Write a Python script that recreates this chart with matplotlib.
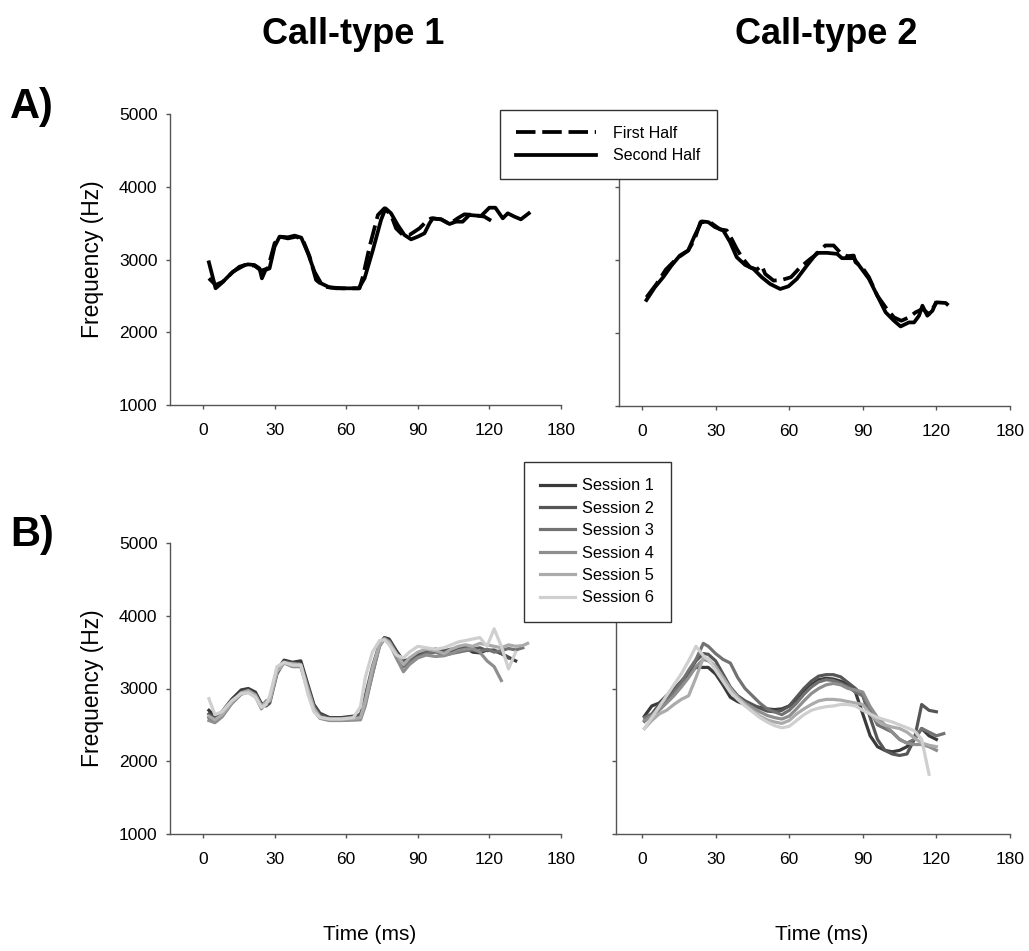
import matplotlib
matplotlib.use('Agg')
import matplotlib.pyplot as plt
from matplotlib.lines import Line2D

plt.rcParams['font.family'] = ['Liberation Sans', 'DejaVu Sans']

# ---------------- data ----------------
# x ticks are evenly spaced but the last one is labelled 180
tick_pos = [0, 30, 60, 90, 120, 150]
tick_labels = ['0', '30', '60', '90', '120', '180']
ytick_vals = [1000, 2000, 3000, 4000, 5000]

# A) call-type 1, first half (dashed) / second half (solid)
a1_first_t = [2.5, 5.3, 8.4, 12.6, 17.5, 21.6, 24.4, 27.2, 30.0, 32.1, 35.6, 39.1,
              41.9, 44.7, 47.4, 50.9, 55.8, 65.6, 67.0, 69.8, 73.3, 76.0, 78.8, 80.9,
              83.7, 86.5, 90.7, 93.5, 95.6, 99.8, 103.3, 106.7, 109.5, 113.7, 117.9, 120.7]
a1_first_f = [2741, 2650, 2695, 2833, 2924, 2915, 2846, 2878, 3222, 3314, 3290, 3314,
              3268, 3039, 2718, 2627, 2604, 2604, 2764, 3176, 3612, 3703, 3612, 3428,
              3337, 3337, 3428, 3520, 3566, 3552, 3488, 3566, 3621, 3612, 3589, 3534]
a1_second_t = [2.5, 5.3, 7.7, 11.9, 15.3, 18.8, 21.6, 23.7, 24.7, 26.2, 27.9, 30.0,
               32.1, 35.6, 38.4, 41.2, 44.0, 46.7, 49.5, 53.0, 58.6, 65.3, 67.7, 71.2,
               74.6, 76.5, 78.8, 81.6, 84.4, 87.2, 90.0, 92.8, 94.9, 96.3, 99.8, 103.3,
               106.0, 108.8, 111.6, 116.5, 120.0, 122.5, 125.6, 127.7, 130.5, 133.2, 136.5]
a1_second_f = [2961, 2604, 2672, 2810, 2901, 2933, 2924, 2878, 2741, 2856, 2878, 3176,
               3314, 3305, 3328, 3300, 3085, 2833, 2672, 2617, 2604, 2604, 2741, 3131,
               3543, 3703, 3635, 3474, 3337, 3277, 3314, 3360, 3497, 3566, 3552, 3488,
               3520, 3520, 3612, 3598, 3712, 3712, 3566, 3635, 3589, 3552, 3635]

# A) call-type 2
a2_first_t = [1.8, 5.9, 9.7, 14.0, 18.8, 21.5, 23.8, 27.7, 31.8, 34.5, 36.5, 38.6,
              40.9, 44.0, 46.8, 48.8, 50.2, 53.6, 57.0, 60.7, 64.5, 68.6, 71.3, 74.7,
              78.1, 80.9, 83.6, 86.3, 87.0, 89.7, 92.5, 95.9, 99.3, 102.7, 105.7, 108.8,
              111.5, 114.3, 117.0, 120.1, 123.8, 126.1]
a2_first_f = [2489, 2672, 2869, 3015, 3130, 3290, 3519, 3519, 3419, 3405, 3290, 3153,
              3025, 2901, 2869, 2924, 2809, 2718, 2727, 2764, 2901, 3015, 3084, 3199,
              3199, 3098, 3052, 3061, 2970, 2901, 2764, 2512, 2351, 2214, 2168, 2214,
              2283, 2328, 2260, 2420, 2411, 2342]
a2_second_t = [1.8, 5.2, 8.6, 12.0, 15.4, 18.8, 21.5, 24.3, 27.0, 29.7, 33.1, 35.9,
               38.6, 42.0, 45.4, 48.8, 52.2, 56.3, 59.7, 63.1, 67.2, 71.3, 75.4, 79.5,
               81.5, 86.3, 89.0, 92.5, 95.9, 99.3, 102.7, 105.4, 108.8, 110.9, 112.9,
               114.3, 116.3, 118.4, 119.7]
a2_second_f = [2452, 2626, 2764, 2924, 3061, 3130, 3336, 3529, 3519, 3451, 3405, 3245,
               3038, 2933, 2878, 2764, 2672, 2603, 2640, 2741, 2924, 3098, 3098, 3084,
               3025, 3025, 2901, 2741, 2512, 2283, 2168, 2090, 2145, 2145, 2237,
               2374, 2237, 2306, 2411]

# B) call-type 1, six sessions (time grid shared, each session ends at its own length)
b1_t = [2.5, 5, 8, 12, 16, 19, 22, 24.5, 26.5, 28, 31, 34, 37.5, 41, 44, 46.5, 49, 53,
        58, 63, 66, 68, 71, 74, 76, 78, 81, 84, 86.5, 90, 93.5, 97.5, 101, 104, 107,
        110, 113, 116, 119, 122, 125, 128, 131, 134, 136]
b1_s1 = [2700, 2620, 2680, 2850, 2980, 3000, 2950, 2790, 2800, 2850,
         3250, 3390, 3360, 3380, 3050, 2780, 2660, 2600, 2600, 2620,
         2640, 2800, 3200, 3600, 3700, 3680, 3520, 3380, 3400, 3460,
         3520, 3540, 3500, 3520, 3540, 3560, 3500, 3490, 3530, 3520,
         3480, 3430, 3380]
b1_s2 = [2650, 2580, 2650, 2820, 2950, 2980, 2920, 2770, 2760, 2800,
         3200, 3370, 3350, 3320, 3030, 2760, 2640, 2590, 2590, 2610,
         2640, 2900, 3300, 3620, 3690, 3660, 3500, 3360, 3380, 3440,
         3500, 3540, 3520, 3540, 3560, 3570, 3540, 3560, 3520, 3530,
         3480, 3420]
b1_s3 = [2600, 2540, 2620, 2800, 2930, 2960, 2900, 2740, 2830, 2850,
         3260, 3360, 3320, 3310, 2980, 2720, 2600, 2570, 2570, 2575,
         2590, 2800, 3250, 3600, 3690, 3640, 3460, 3300, 3360, 3430,
         3480, 3500, 3460, 3480, 3500, 3520, 3530, 3510, 3540, 3500,
         3520, 3550, 3530, 3560]
b1_s4 = [2560, 2530, 2610, 2790, 2920, 2950, 2890, 2720, 2820, 2840,
         3240, 3350, 3300, 3300, 2960, 2700, 2590, 2560, 2560, 2565,
         2570, 2760, 3200, 3580, 3680, 3630, 3420, 3230, 3330, 3420,
         3460, 3440, 3450, 3480, 3520, 3540, 3550, 3500, 3380, 3300,
         3110]
b1_s5 = [2620, 2570, 2640, 2810, 2940, 2970, 2910, 2760, 2810, 2830,
         3230, 3350, 3340, 3330, 2990, 2730, 2610, 2580, 2580, 2585,
         2600, 2830, 3280, 3610, 3680, 3640, 3480, 3330, 3420, 3500,
         3540, 3520, 3480, 3540, 3580, 3600, 3580, 3620, 3600, 3580,
         3560, 3600, 3580, 3590, 3620]
b1_s6 = [2860, 2640, 2680, 2830, 2930, 2940, 2880, 2740, 2780, 2900,
         3300, 3360, 3320, 3320, 2920, 2680, 2600, 2580, 2580, 2600,
         2750, 3150, 3500, 3660, 3670, 3600, 3460, 3420, 3500, 3580,
         3560, 3540, 3560, 3600, 3640, 3660, 3680, 3700, 3580, 3820,
         3580, 3270, 3500]

# B) call-type 2, six sessions
b2_t = [1, 4, 7, 10, 13, 16, 19, 22, 25, 27, 30, 33, 36, 39, 42, 45, 48, 51, 54, 57,
        60, 63, 66, 69, 72, 75, 78, 81, 84, 87, 90, 93, 96, 99, 102, 105, 108, 111,
        114, 117, 120, 123]
b2_s1 = [2620, 2760, 2800, 2900, 2980, 3080, 3200, 3290, 3290, 3290,
         3200, 3050, 2880, 2820, 2780, 2760, 2740, 2720, 2710, 2720,
         2760, 2850, 2950, 3050, 3120, 3140, 3130, 3100, 3050, 2950,
         2650, 2350, 2200, 2150, 2130, 2150, 2200, 2300, 2450, 2350,
         2300]
b2_s2 = [2550, 2650, 2780, 2880, 2990, 3100, 3220, 3380, 3480, 3470,
         3380, 3200, 3020, 2900, 2830, 2780, 2730, 2690, 2680, 2700,
         2760, 2880, 3000, 3100, 3170, 3190, 3190, 3160, 3080, 3000,
         2900, 2600, 2300, 2150, 2100, 2080, 2100, 2300, 2780, 2700,
         2680]
b2_s3 = [2600, 2650, 2720, 2820, 2950, 3080, 3250, 3400, 3620, 3580,
         3480, 3400, 3350, 3150, 3000, 2900, 2800, 2720, 2680, 2640,
         2700, 2800, 2920, 3020, 3090, 3120, 3110, 3070, 3020, 2950,
         2900, 2700, 2500, 2450, 2400, 2300, 2250, 2300, 2450, 2400,
         2350, 2380]
b2_s4 = [2560, 2620, 2700, 2800, 2900, 3020, 3150, 3300, 3400, 3380,
         3300, 3150, 3000, 2880, 2800, 2740, 2680, 2630, 2600, 2580,
         2620, 2720, 2830, 2930, 3000, 3050, 3070, 3050, 3000, 2980,
         2950, 2750, 2600, 2500, 2400, 2300, 2250, 2230, 2230, 2200,
         2150]
b2_s5 = [2450, 2560, 2650, 2700, 2780, 2850, 2900, 3150, 3420, 3400,
         3300, 3150, 3000, 2880, 2780, 2700, 2620, 2570, 2540, 2520,
         2560, 2650, 2720, 2780, 2830, 2850, 2850, 2840, 2820, 2800,
         2780, 2650, 2550, 2500, 2470, 2450, 2400, 2320, 2250, 2220,
         2200]
b2_s6 = [2450, 2600, 2750, 2900, 3050, 3200, 3380, 3580, 3450, 3400,
         3250, 3100, 2950, 2850, 2760, 2680, 2600, 2540, 2490, 2460,
         2480, 2560, 2640, 2700, 2730, 2750, 2760, 2780, 2780, 2760,
         2700, 2650, 2600, 2570, 2540, 2500, 2460, 2420, 2300, 1820]

session_labels = ['Session 1', 'Session 2', 'Session 3', 'Session 4', 'Session 5', 'Session 6']
session_colors = ['#3a3a3a', '#565656', '#727272', '#8e8e8e', '#ababab', '#cfcfcf']

# ---------------- figure ----------------
W, H = 1029, 951
fig = plt.figure(figsize=(W / 100, H / 100), dpi=100)


def axes_px(x0, y0, x1, y1):
    return fig.add_axes([x0 / W, 1 - y1 / H, (x1 - x0) / W, (y1 - y0) / H])


def style(ax, xmin, show_ylabels):
    ax.set_xlim(xmin, 150)
    ax.set_ylim(1000, 5000)
    ax.set_xticks(tick_pos)
    ax.set_xticklabels(tick_labels)
    ax.set_yticks(ytick_vals)
    for s in ['top', 'right']:
        ax.spines[s].set_visible(False)
    for s in ['left', 'bottom']:
        ax.spines[s].set_color('#555555')
        ax.spines[s].set_linewidth(1.0)
    ax.tick_params(direction='out', length=3, width=1, color='#555555', labelsize=12.5)
    ax.tick_params(axis='x', pad=10)
    ax.tick_params(axis='y', pad=6)
    if show_ylabels:
        ax.set_ylabel('Frequency (Hz)', fontsize=16.5)
        ax.yaxis.set_label_coords(-0.17, 0.5)
    else:
        ax.set_yticklabels([])


ax_a1 = axes_px(170, 114, 561, 405)
ax_a2 = axes_px(619, 114, 1010, 406)
ax_b1 = axes_px(170, 543, 561, 834)
ax_b2 = axes_px(616, 543, 1010, 834)

style(ax_a1, -13.8, True)
style(ax_a2, -9.4, False)
style(ax_b1, -13.8, True)
style(ax_b2, -10.6, False)

lw_a = 2.7
dash = (5.2, 1.8)
ax_a1.plot(a1_first_t, a1_first_f, color='black', lw=lw_a, dashes=dash)
ax_a1.plot(a1_second_t, a1_second_f, color='black', lw=lw_a)
ax_a2.plot(a2_first_t, a2_first_f, color='black', lw=lw_a, dashes=dash)
ax_a2.plot(a2_second_t, a2_second_f, color='black', lw=lw_a)

lw_b = 2.3
b1_sessions = [b1_s1, b1_s2, b1_s3, b1_s4, b1_s5, b1_s6]
b2_sessions = [b2_s1, b2_s2, b2_s3, b2_s4, b2_s5, b2_s6]
for ys, c in zip(b1_sessions, session_colors):
    ax_b1.plot(b1_t[:len(ys)], ys, color=c, lw=lw_b)
for ys, c in zip(b2_sessions, session_colors):
    ax_b2.plot(b2_t[:len(ys)], ys, color=c, lw=lw_b)

# legends sit on top of the right-hand axes, so put them on the figure
half_handles = [Line2D([], [], color='black', lw=lw_a, dashes=dash),
                Line2D([], [], color='black', lw=lw_a)]
leg_a = fig.legend(half_handles, ['First Half', 'Second Half'], loc='upper left',
                   bbox_to_anchor=(500 / W, 1 - 110 / H), borderaxespad=0,
                   fontsize=11.5, handlelength=5.0, handletextpad=1.1,
                   borderpad=1.0, labelspacing=0.45, fancybox=False,
                   framealpha=1, edgecolor='#333333')
leg_a.get_frame().set_linewidth(1.0)

sess_handles = [Line2D([], [], color=c, lw=lw_b) for c in session_colors]
leg_b = fig.legend(sess_handles, session_labels, loc='upper left',
                   bbox_to_anchor=(524 / W, 1 - 462 / H), borderaxespad=0,
                   fontsize=11.8, handlelength=2.1, handletextpad=0.45,
                   borderpad=1.0, labelspacing=0.45, fancybox=False,
                   framealpha=1, edgecolor='#333333')
leg_b.get_frame().set_linewidth(1.0)

# headings and panel letters
fig.text(353 / W, 1 - 35 / H, 'Call-type 1', ha='center', va='center',
         fontsize=26, fontweight='bold')
fig.text(826 / W, 1 - 35 / H, 'Call-type 2', ha='center', va='center',
         fontsize=26, fontweight='bold')
fig.text(10 / W, 1 - 107 / H, 'A)', ha='left', va='center', fontsize=30, fontweight='bold')
fig.text(10 / W, 1 - 535 / H, 'B)', ha='left', va='center', fontsize=30, fontweight='bold')
fig.text(370 / W, 1 - 935 / H, 'Time (ms)', ha='center', va='center', fontsize=15)
fig.text(822 / W, 1 - 935 / H, 'Time (ms)', ha='center', va='center', fontsize=15)

fig.savefig('out.png', dpi=100)
